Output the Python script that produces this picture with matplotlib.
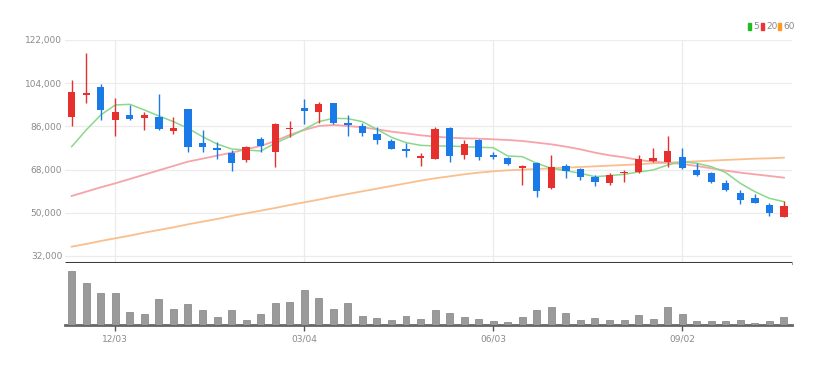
import matplotlib
matplotlib.use('Agg')
import matplotlib.pyplot as plt
import numpy as np

# 주봉 데이터 (시가, 고가, 저가, 종가)
open_p = [90050, 99080, 102280, 88660, 90890, 89360, 89780, 84220, 93110, 79220,
          76860, 75050, 72000, 80750, 75190, 84780, 93530, 91860, 95610, 87550,
          86160, 82830, 79910, 76580, 72830, 72550, 85190, 74220, 80330, 74220,
          72830, 68660, 70880, 60190, 69500, 68110, 65050, 62550, 66440, 67130,
          71720, 71300, 73390, 67830, 66440, 62270, 58380, 56020, 53250, 48380]
high_p = [105330, 116720, 103530, 97690, 94920, 92140, 99360, 90050, 93110, 84500,
          79640, 76160, 77830, 81720, 87280, 88250, 97280, 96300, 95890, 90750,
          87550, 85890, 80610, 78940, 75050, 85610, 85890, 80330, 80610, 75470,
          73390, 69910, 71300, 74080, 70330, 68530, 65750, 66440, 67830, 74080,
          77140, 82000, 77140, 70610, 67130, 63660, 59500, 57830, 53940, 55050]
low_p = [86160, 95610, 88660, 82140, 88660, 84500, 84500, 82690, 75470, 75470,
         72550, 67550, 71300, 75330, 68940, 81720, 87000, 87280, 87000, 82140,
         82000, 78660, 76440, 73390, 69500, 72270, 71160, 72550, 72000, 72550,
         69910, 61440, 56720, 59770, 64360, 63660, 61160, 61580, 62970, 66720,
         71300, 68940, 68250, 65470, 62270, 59220, 53660, 53940, 48660, 48110]
close_p = [100470, 100050, 92830, 92000, 88940, 90890, 84780, 85330, 77270, 77270,
           76020, 70880, 77550, 77830, 87000, 85470, 92550, 95330, 87550, 86440,
           83390, 80330, 76580, 75750, 73530, 84780, 73660, 78660, 73110, 73390,
           70190, 69500, 59220, 69220, 67550, 64770, 62970, 65750, 67130, 72270,
           72690, 75750, 68530, 65750, 62690, 59500, 55330, 54220, 50050, 52970]
volume = [162, 126, 96, 96, 40, 32, 77, 47, 62, 44,
          24, 45, 15, 32, 65, 70, 106, 82, 49, 65,
          26, 22, 16, 27, 17, 46, 36, 24, 17, 11,
          10, 24, 46, 55, 36, 15, 22, 15, 15, 31,
          19, 55, 32, 11, 11, 11, 16, 6, 11, 25]

ma5 = [77550, 84500, 90750, 94920, 95190, 92830, 90330, 87970, 85190, 81720,
       78660, 76580, 76160, 75750, 78940, 81720, 84780, 87970, 89360, 89220,
       87970, 84780, 81440, 79220, 78110, 77830, 77830, 77550, 77270, 77130,
       73660, 73390, 70610, 68530, 67550, 66440, 65050, 65470, 66020, 67000,
       67830, 69910, 71300, 70610, 69220, 66720, 62270, 58800, 56020, 54630]
ma20 = [57000, 58800, 60610, 62270, 64080, 65880, 67690, 69500, 71300, 72550,
        73800, 75050, 76440, 77830, 79910, 82410, 84500, 86160, 86580, 86160,
        85610, 84780, 83800, 83110, 82270, 81720, 81300, 81020, 80890, 80610,
        80330, 79910, 79220, 78520, 77550, 76440, 75050, 73940, 73110, 72000,
        71300, 70880, 70330, 69500, 68530, 67550, 66720, 66020, 65330, 64630]
ma60 = [35880, 36990, 38240, 39350, 40470, 41720, 42830, 43940, 45190, 46300,
        47410, 48660, 49770, 50880, 52000, 53240, 54350, 55470, 56720, 57830,
        58940, 60050, 61160, 62270, 63380, 64360, 65190, 66020, 66720, 67270,
        67690, 67970, 68250, 68530, 68800, 69080, 69360, 69640, 69910, 70190,
        70610, 70880, 71160, 71440, 71720, 72000, 72270, 72550, 72690, 72970]

date_pos = [3, 16, 29, 42]
date_labels = ['12/03', '03/04', '06/03', '09/02']
price_ticks = [32000, 50000, 68000, 86000, 104000, 122000]
ma_names = ['5', '20', '60']
ma_colors = ['#22bb22', '#ee3333', '#ff9922']

UP = '#e5302e'
DOWN = '#1a7be8'
FONT = ['Liberation Sans Narrow', 'DejaVu Sans']


def DrawCandle(ax):
    x = np.arange(len(open_p))
    o = np.array(open_p)
    c = np.array(close_p)
    colors = [UP if c[i] >= o[i] else DOWN for i in range(len(x))]
    ax.vlines(x, low_p, high_p, colors=colors, linewidth=1.0, zorder=3)
    ax.bar(x, np.abs(c - o), bottom=np.minimum(o, c), width=0.5,
           color=colors, zorder=4)
    ax.plot(x, ma60, color='#f9bf8c', linewidth=1.3, zorder=2)
    ax.plot(x, ma20, color='#f6a3aa', linewidth=1.3, zorder=2)
    ax.plot(x, ma5, color='#8ad98a', linewidth=1.1, zorder=2)

    ax.set_xlim(-0.46, 49.55)
    ax.set_ylim(29080, 122000)
    ax.set_yticks(price_ticks)
    ax.set_yticklabels(['{:,}'.format(v) for v in price_ticks],
                       color='#8a8a8a', fontsize=6.5, family=FONT)
    ax.tick_params(axis='y', length=0, pad=2)
    ax.set_xticks(date_pos)
    ax.tick_params(axis='x', length=0, labelbottom=False)
    ax.grid(True, color='#ececec', linewidth=0.9, zorder=0)
    for s in ['top', 'right', 'left']:
        ax.spines[s].set_visible(False)
    ax.spines['bottom'].set_color('#3c3c3c')
    ax.spines['bottom'].set_linewidth(2.2)
    ax.spines['bottom'].set_capstyle('butt')


def DrawVolume(ax):
    x = np.arange(len(volume))
    ax.bar(x, volume, width=0.48, color='#9a9a9a', edgecolor='#808080',
           linewidth=0.5, zorder=3)
    ax.set_xlim(-0.46, 49.55)
    ax.set_ylim(0, 186)
    ax.set_yticks([])
    ax.set_xticks(date_pos)
    ax.set_xticklabels(date_labels, color='#8a8a8a', fontsize=6.5, family=FONT)
    ax.tick_params(axis='x', length=4, width=1, color='#555555', pad=3)
    for s in ['top', 'right', 'left']:
        ax.spines[s].set_visible(False)
    ax.spines['bottom'].set_color('#666666')
    ax.spines['bottom'].set_linewidth(2)


if __name__ == '__main__':
    fig = plt.figure(figsize=(8.29, 3.65), dpi=100)
    ax1 = fig.add_axes([0.0784, 0.2795, 0.8769, 0.6110])
    ax2 = fig.add_axes([0.0784, 0.1096, 0.8769, 0.1699])
    DrawCandle(ax1)
    DrawVolume(ax2)

    # 범례 (이동평균선) - 픽셀 단위로 배치
    W = 829.0
    px = 748
    for name, col in zip(ma_names, ma_colors):
        fig.patches.append(plt.Rectangle((px / W, 0.918), 3.5 / W, 0.02,
                                         transform=fig.transFigure,
                                         color=col, figure=fig))
        fig.text((px + 5) / W, 0.928, name, color='#8a8a8a', fontsize=6.5,
                 family=FONT, va='center', ha='left')
        px += 9 + 4 * len(name)
    fig.savefig('out.png', dpi=100)
